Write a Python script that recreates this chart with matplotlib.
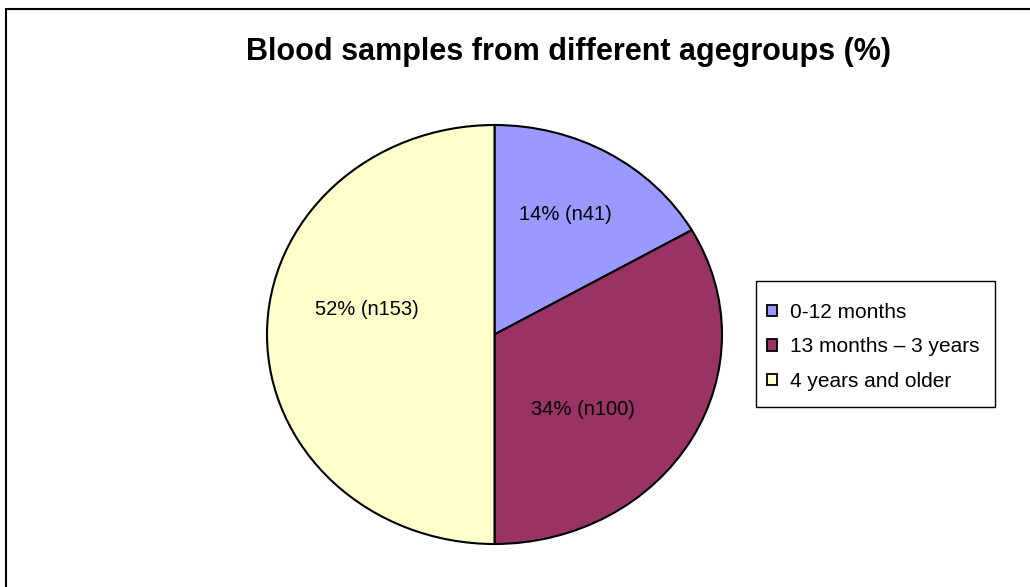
import matplotlib
matplotlib.use('Agg')
import matplotlib.pyplot as plt
from matplotlib.patches import Rectangle

plt.rcParams['font.family'] = ['Liberation Sans', 'DejaVu Sans']

# data
groups = ['0-12 months', '13 months \u2013 3 years', '4 years and older']
counts = [41, 100, 153]
percents = [14, 34, 52]
# slice sizes as drawn in the original chart (%), which differ from the labels
slice_shares = [16.7, 33.3, 50.0]
colors = ['#9999FF', '#993366', '#FFFFCC']

# label spots inside the pie (axes data coords, pie radius = 1)
label_pos = [(0.31, 0.575), (0.39, -0.36), (-0.56, 0.12)]

W, H = 1030, 587
fig = plt.figure(figsize=(W / 100, H / 100), dpi=100, facecolor='white')

# outer chart border (only top/left visible in the original crop)
fig.patches.append(Rectangle((6 / W, -0.1), 1.2, 1 - 9 / H + 0.1,
                             transform=fig.transFigure, fill=False,
                             edgecolor='black', linewidth=1.5))

# pie is slightly elliptical: 455 x 419 px, centred at (494.5, 334.5)
left, right, top, bottom = 267, 722, 125, 544
ax = fig.add_axes([left / W, 1 - bottom / H, (right - left) / W, (bottom - top) / H])
wedges, _ = ax.pie(slice_shares, colors=colors, startangle=90, counterclock=False,
                   wedgeprops=dict(edgecolor='black', linewidth=1.5))
ax.set_aspect('auto')
ax.set_xlim(-1, 1)
ax.set_ylim(-1, 1)
ax.axis('off')
for w in wedges:
    w.set_clip_on(False)

for (x, y), p, n in zip(label_pos, percents, counts):
    ax.text(x, y, f'{p}% (n{n})', ha='center', va='center', fontsize=14.5)

fig.text(569 / W, 1 - 52 / H, 'Blood samples from different agegroups (%)',
         ha='center', va='center', fontsize=22, fontweight='bold')

# legend box drawn separately so the entries can sit where the original has them
fig.patches.append(Rectangle((756 / W, 1 - 407 / H), (995 - 756) / W, (407 - 281) / H,
                             transform=fig.transFigure, fill=False,
                             edgecolor='black', linewidth=1.0))
leg = fig.legend(wedges, groups, loc='upper left',
                 bbox_to_anchor=(767 / W, 1 - 303 / H), fontsize=15,
                 frameon=False, handlelength=0.48, handleheight=0.48,
                 handletextpad=0.6, labelspacing=0.74, borderpad=0,
                 borderaxespad=0)
for h in leg.legend_handles:
    h.set_linewidth(1.3)

fig.savefig('out.png', dpi=100, facecolor='white')
